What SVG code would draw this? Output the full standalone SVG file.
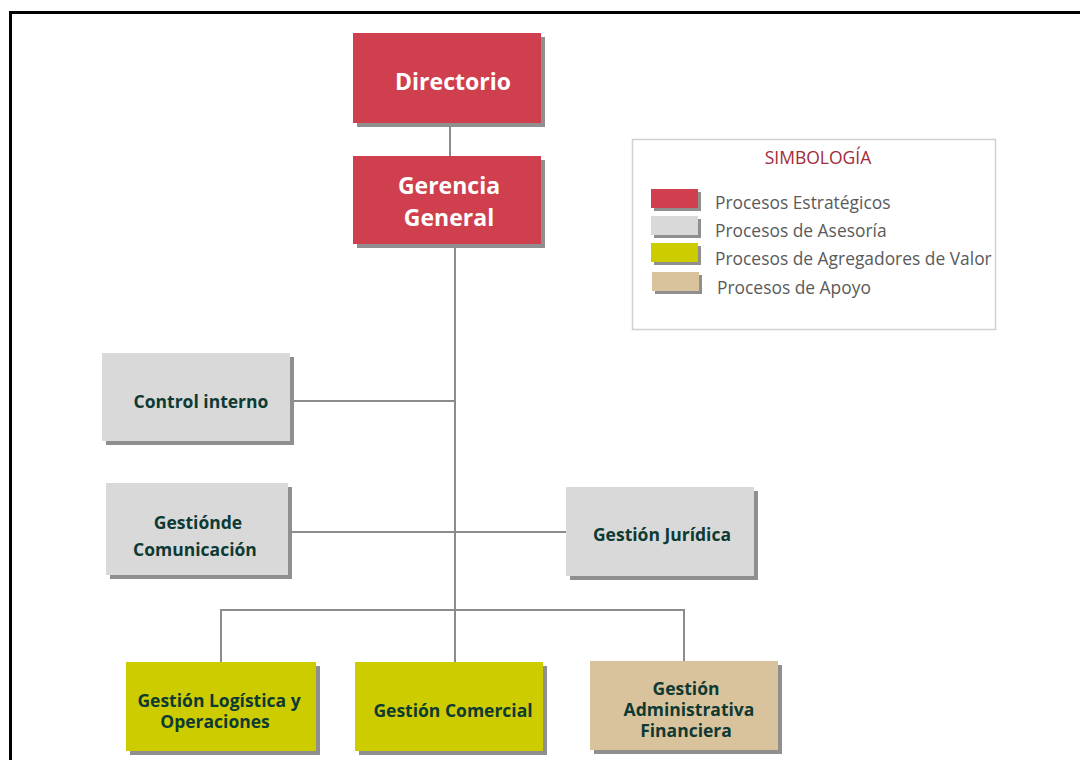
<svg xmlns="http://www.w3.org/2000/svg" width="1080" height="760" viewBox="0 0 1080 760">
  <style>
    .shadow { fill: #8f8f8f; }
    .red { fill: #d03f4e; }
    .gray { fill: #d9d9d9; }
    .yellow { fill: #cccc00; }
    .tan { fill: #d9c39d; }
    .head { font-family: "Open Sans", "Liberation Sans", sans-serif; font-weight: bold; font-size: 23px; fill: #ffffff; text-anchor: middle; }
    .lbl { font-family: "Open Sans", "Liberation Sans", sans-serif; font-weight: bold; font-size: 17.5px; fill: #0e3a33; text-anchor: middle; }
    .leg { font-family: "Open Sans", "Liberation Sans", sans-serif; font-size: 17.4px; fill: #5a5a5a; }
    .conn { stroke: #8c8c8c; stroke-width: 2; fill: none; }
  </style>
  <rect width="1080" height="760" fill="#ffffff"/>
  <!-- page frame -->
  <path d="M10.5 760 V12.5 H1080" fill="none" stroke="#000000" stroke-width="3"/>

  <g id="connectors">
    <line class="conn" x1="450" y1="123" x2="450" y2="157"/>
    <line class="conn" x1="455" y1="244" x2="455" y2="662"/>
    <line class="conn" x1="292" y1="401" x2="455" y2="401"/>
    <line class="conn" x1="290" y1="532" x2="566" y2="532"/>
    <path class="conn" d="M221 662 V610 H684 V661"/>
  </g>

  <g id="directorio">
    <rect class="shadow" x="357" y="37" width="188" height="90"/>
    <rect class="red" x="353" y="33" width="188" height="90"/>
    <text class="head" x="453" y="90">Directorio</text>
  </g>

  <g id="gerencia-general">
    <rect class="shadow" x="357" y="160" width="188" height="88"/>
    <rect class="red" x="353" y="156" width="188" height="88"/>
    <text class="head" x="449" y="194">Gerencia</text>
    <text class="head" x="449" y="226">General</text>
  </g>

  <g id="control-interno">
    <rect class="shadow" x="106" y="357" width="188" height="88"/>
    <rect class="gray" x="102" y="353" width="188" height="88"/>
    <text class="lbl" x="201" y="408">Control interno</text>
  </g>

  <g id="gestion-comunicacion">
    <rect class="shadow" x="110" y="487" width="182" height="92"/>
    <rect class="gray" x="106" y="483" width="182" height="92"/>
    <text class="lbl" x="198" y="529">Gestiónde</text>
    <text class="lbl" x="195" y="556">Comunicación</text>
  </g>

  <g id="gestion-juridica">
    <rect class="shadow" x="570" y="491" width="188" height="89"/>
    <rect class="gray" x="566" y="487" width="188" height="89"/>
    <text class="lbl" x="662" y="541">Gestión Jurídica</text>
  </g>

  <g id="gestion-logistica">
    <rect class="shadow" x="130" y="666" width="190" height="89"/>
    <rect class="yellow" x="126" y="662" width="190" height="89"/>
    <text class="lbl" x="219" y="707">Gestión Logística y</text>
    <text class="lbl" x="215" y="728">Operaciones</text>
  </g>

  <g id="gestion-comercial">
    <rect class="shadow" x="359" y="666" width="188" height="89"/>
    <rect class="yellow" x="355" y="662" width="188" height="89"/>
    <text class="lbl" x="453" y="717">Gestión Comercial</text>
  </g>

  <g id="gestion-administrativa">
    <rect class="shadow" x="594" y="665" width="188" height="89"/>
    <rect class="tan" x="590" y="661" width="188" height="89"/>
    <text class="lbl" x="686" y="695">Gestión</text>
    <text class="lbl" x="689" y="716">Administrativa</text>
    <text class="lbl" x="686" y="737">Financiera</text>
  </g>

  <g id="simbologia">
    <rect x="632.5" y="139.5" width="363" height="190" fill="#ffffff" stroke="#d0d0d0" stroke-width="1.5"/>
    <text x="818" y="164" font-family="Open Sans, Liberation Sans, sans-serif" font-size="17.5" fill="#a32a3a" text-anchor="middle">SIMBOLOGÍA</text>
    <rect class="shadow" x="654" y="192" width="47" height="19"/>
    <rect class="red" x="651" y="189" width="47" height="19"/>
    <rect class="shadow" x="654" y="219" width="47" height="19"/>
    <rect class="gray" x="651" y="216" width="47" height="19"/>
    <rect class="shadow" x="654" y="246" width="47" height="19"/>
    <rect class="yellow" x="651" y="243" width="47" height="19"/>
    <rect class="shadow" x="655" y="275" width="47" height="19"/>
    <rect class="tan" x="652" y="272" width="47" height="19"/>
    <text class="leg" x="715" y="209">Procesos Estratégicos</text>
    <text class="leg" x="715" y="237">Procesos de Asesoría</text>
    <text class="leg" x="715" y="265">Procesos de Agregadores de Valor</text>
    <text class="leg" x="717" y="294">Procesos de Apoyo</text>
  </g>
</svg>
